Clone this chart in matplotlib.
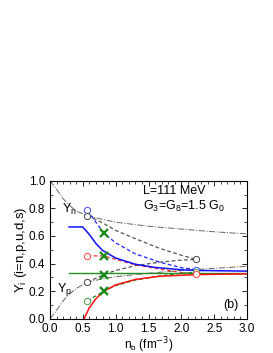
import numpy as np
import matplotlib
matplotlib.use("Agg")
import matplotlib.pyplot as plt
from matplotlib.ticker import MultipleLocator

plt.rcParams['font.family'] = ['Liberation Sans', 'DejaVu Sans']

# hadronic matter (dash-dot)
x_had = [0.0, 0.1, 0.2, 0.3, 0.4, 0.57, 0.8, 1.0, 1.5, 2.0, 2.5, 3.0]
yn_had = [1.0, 0.94, 0.87, 0.82, 0.78, 0.748, 0.72, 0.70, 0.67, 0.65, 0.63, 0.615]
yp_had = [0.0, 0.06, 0.13, 0.18, 0.22, 0.265, 0.29, 0.305, 0.33, 0.35, 0.365, 0.38]

# solid curves
x_solid = [0.29, 0.5, 0.6, 0.7, 0.8, 1.0, 1.3, 1.6, 2.0, 2.23, 3.0]
yd_solid = [0.665, 0.665, 0.61, 0.545, 0.495, 0.44, 0.395, 0.372, 0.355, 0.35, 0.345]
x_red = [0.52, 0.6, 0.7, 0.82, 1.0, 1.3, 1.67, 2.23, 3.0]
yu_solid = [0.0, 0.08, 0.145, 0.20, 0.245, 0.285, 0.308, 0.32, 0.325]
x_s = [0.29, 3.0]
ys_solid = [0.333, 0.333]

# dashed curves (mixed phase)
x_mix = [0.57, 0.82, 1.0, 1.3, 1.67, 2.0, 2.23]
yd_mix = [0.785, 0.62, 0.55, 0.47, 0.41, 0.37, 0.357]
yu_mix = [0.456, 0.455, 0.43, 0.39, 0.36, 0.335, 0.325]
ys_mix = [0.13, 0.20, 0.24, 0.28, 0.31, 0.33, 0.338]
yn_mix = [0.748, 0.69, 0.64, 0.58, 0.51, 0.46, 0.43]
yp_mix = [0.265, 0.32, 0.35, 0.385, 0.41, 0.425, 0.43]

# markers
x_open = [0.57, 0.57, 0.57, 0.57, 0.57]
y_open = [0.785, 0.748, 0.456, 0.265, 0.13]
c_open = ['#4040ff', '#444444', '#ff4040', '#444444', '#40a040']
x_end = [2.23, 2.23, 2.23, 2.23]
y_end = [0.43, 0.355, 0.338, 0.323]
c_end = ['#444444', '#4040ff', '#40a040', '#ff4040']
x_cross = [0.82, 0.82, 0.82, 0.82]
y_cross = [0.62, 0.455, 0.32, 0.20]

fig = plt.figure(figsize=(2.73, 3.53), dpi=100)
ax = fig.add_axes([0.183, 0.097, 0.722, 0.391])

ax.plot(x_had, yn_had, color='#666666', lw=0.7, ls='-.')
ax.plot(x_had, yp_had, color='#666666', lw=0.7, ls='-.')

ax.plot(x_mix, yn_mix, color='#555555', lw=0.9, ls=(0, (3, 2)))
ax.plot(x_mix, yp_mix, color='#555555', lw=0.9, ls=(0, (3, 2)))
ax.plot(x_mix, yd_mix, color='#2020ff', lw=0.9, ls=(0, (3, 2)))
ax.plot(x_mix, yu_mix, color='#ff3030', lw=0.9, ls=(0, (3, 2)))
ax.plot(x_mix, ys_mix, color='#209020', lw=0.9, ls=(0, (3, 2)))

ax.plot(x_s, ys_solid, color='#209020', lw=1.0)
ax.plot(x_solid, yd_solid, color='#1010ff', lw=1.1)
ax.plot(x_red, yu_solid, color='#ff1010', lw=1.1)

for xx, yy, cc in zip(x_open + x_end, y_open + y_end, c_open + c_end):
    ax.plot(xx, yy, 'o', mfc='white', mec=cc, ms=4.5, mew=0.7)
ax.plot(x_cross, y_cross, 'x', color='#1a8a1a', ms=5.5, mew=1.7, ls='none')

ax.set_xlim(0, 3.0)
ax.set_ylim(0, 1.0)
ax.xaxis.set_major_locator(MultipleLocator(0.5))
ax.xaxis.set_minor_locator(MultipleLocator(0.1))
ax.yaxis.set_major_locator(MultipleLocator(0.2))
ax.yaxis.set_minor_locator(MultipleLocator(0.1))
ax.tick_params(which='both', direction='in', top=True, right=True, labelsize=8.5)
ax.tick_params(axis='x', pad=3)
ax.tick_params(axis='y', pad=3.5)
ax.tick_params(which='major', length=3.5, width=0.6)
ax.tick_params(which='minor', length=2, width=0.5)
for s in ax.spines.values():
    s.set_linewidth(0.8)

ax.set_xlabel(r'n$_\mathregular{b}$ (fm$^{-3}$)', fontsize=8.5, labelpad=0)
ax.set_ylabel(r'Y$_\mathregular{i}$ (i=n,p,u,d,s)', fontsize=9.5, labelpad=0)

ax.text(1.42, 0.925, 'L=111 MeV', fontsize=9, va='center')
ax.text(1.42, 0.815, r'G$_\mathregular{3}$=G$_\mathregular{8}$=1.5 G$_\mathregular{0}$', fontsize=9, va='center')
ax.text(0.18, 0.79, r'Y$_\mathregular{n}$', fontsize=9, va='center')
ax.text(0.1, 0.21, r'Y$_\mathregular{p}$', fontsize=9, va='center')
ax.text(2.63, 0.1, '(b)', fontsize=9, va='center')

fig.savefig('out.png', dpi=100)
